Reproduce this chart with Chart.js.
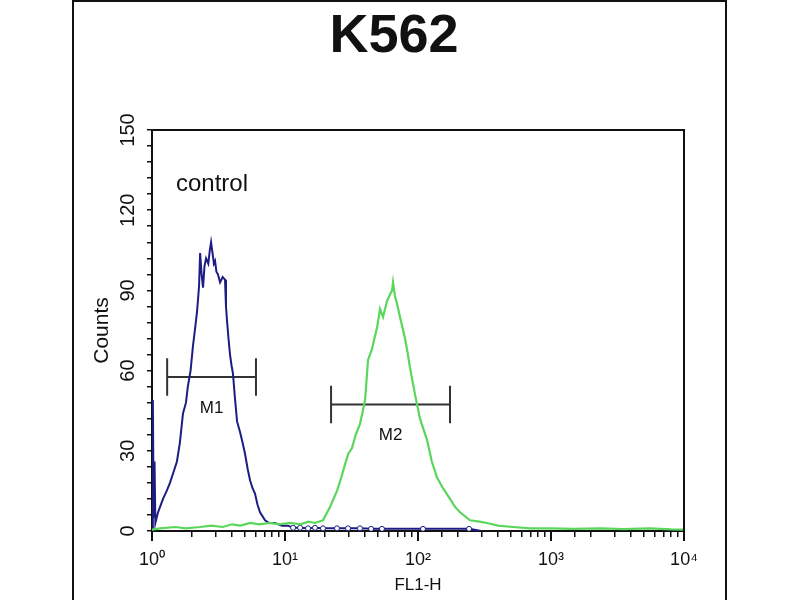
<!DOCTYPE html>
<html>
<head>
<meta charset="utf-8">
<title>K562</title>
<script src="https://cdn.jsdelivr.net/npm/chart.js@4.4.0/dist/chart.umd.min.js"></script>
<style>
  html, body { margin: 0; padding: 0; background: #fff; }
  #wrap { position: relative; width: 800px; height: 600px; overflow: hidden; }
  #wrap canvas { position: absolute; left: 0; top: 0; }
  #frame { position: absolute; left: 72px; top: 0; width: 651px; height: 640px;
           border: 2px solid #111; pointer-events: none; }
</style>
</head>
<body>
<div id="wrap">
  <canvas id="chart-histogram" width="800" height="600"></canvas>
  <div id="frame"></div>
</div>
<script>
const FONT = "'Liberation Sans Narrow', 'Liberation Sans', Arial, sans-serif";

const TITLE = 'K562';
const X_LABEL = 'FL1-H';
const Y_LABEL = 'Counts';
const SAMPLE_NOTE = 'control';
const Y_MAX = 150;
const Y_LABEL_STEP = 30;
const Y_MINOR_STEP = 6;
const X_MIN = 1;
const X_MAX = 10000;
const X_DECADES = [1, 10, 100, 1000, 10000];
const SUPERSCRIPTS = ['\u2070', '\u00b9', '\u00b2', '\u00b3', '\u2074'];

// control histogram (blue)
const controlX = [
  1.00, 1.015, 1.03, 1.045, 1.06, 1.11, 1.21, 1.29, 1.365, 1.45,
  1.54, 1.62, 1.71, 1.80, 1.86, 1.95, 2.03, 2.10, 2.18, 2.23,
  2.26, 2.30, 2.36, 2.42, 2.48, 2.55, 2.65, 2.72, 2.78, 2.85,
  2.92, 2.98, 3.05, 3.13, 3.25, 3.40, 3.54, 3.60, 3.66, 3.76,
  3.86, 3.96, 4.06, 4.20, 4.36, 4.59, 4.80, 5.00, 5.25, 5.46,
  5.70, 5.95, 6.20, 6.49, 7.08, 7.6, 8.4, 9.5, 10.5, 11.5,
  13.0, 14.9, 16.8, 19.3, 24.6, 29.8, 36.6, 44.4, 53.6, 109,
  242, 300,
];
const controlY = [
  0, 49, 5, 26, 3, 7, 12, 15, 18, 22,
  26, 33, 44, 48, 54, 60, 69, 75, 82, 88,
  92, 104, 96, 91, 99, 102, 100, 105, 108, 104,
  100, 101, 97, 96, 93, 95, 94, 84, 79, 72,
  66, 62, 59, 50, 41, 37, 33, 29, 23, 19,
  16, 14, 10, 7, 4, 3, 3, 2, 2, 1.2,
  1.2, 1, 1.2, 1, 1, 1, 1, 0.8, 0.8, 0.8,
  0.8, 0,
];

// stained sample histogram (green)
const sampleX = [
  1.00, 1.15, 1.5, 1.8, 2.3, 2.8, 3.4, 4.0, 4.6, 5.5,
  6.4, 7.7, 9.0, 11, 13, 15, 16.8, 19.3, 21.8, 24.6,
  26.5, 28.3, 30, 31.9, 34, 36.6, 38.5, 40, 42.1, 45.1,
  47, 49.2, 51.8, 54.6, 58.5, 61, 63.8, 64.9, 67, 69.5,
  73.3, 79.9, 84, 87.1, 95, 103.5, 117, 127, 139, 154,
  174, 190, 207, 246, 290, 330, 400, 518, 700, 980,
  1500, 2335, 3500, 5550, 8000, 10000,
];
const sampleY = [
  0.5, 1, 1.5, 1, 1.5, 2, 1.5, 2.5, 2, 3,
  2.5, 3, 2.5, 3, 2.5, 3.5, 3, 4, 9, 15,
  20, 25, 29, 31, 36, 40, 45, 49, 64, 68,
  72, 76, 83, 80, 86, 88, 90, 93, 88, 85,
  80, 72, 66, 61, 51, 42, 34, 26, 20, 16,
  12, 9, 7, 4, 3.5, 3, 2, 1.5, 1, 1,
  0.8, 1, 0.7, 1, 0.6, 0.5,
];

// marker gates
const gateNames = ['M1', 'M2'];
const gateStart = [1.30, 22.2];
const gateEnd = [6.05, 174];
const gateLevel = [57.6, 47.3];

function toPoints(xs, ys) {
  return xs.map((x, i) => ({ x, y: ys[i] }));
}

function gatePoints(i) {
  const a = gateStart[i];
  const b = gateEnd[i];
  const y = gateLevel[i];
  const cap = 7;
  return [
    { x: a, y: y - cap }, { x: a, y: y + cap }, { x: a, y: null },
    { x: a, y }, { x: b, y }, { x: b, y: null },
    { x: b, y: y - cap }, { x: b, y: y + cap },
  ];
}

// title, the "control" note, gate names, longer decade ticks and the closing plot frame
const captions = {
  id: 'captions',
  afterDraw(chart) {
    const { ctx, chartArea, scales } = chart;
    ctx.save();
    ctx.strokeStyle = '#111';
    ctx.lineWidth = 2;
    ctx.beginPath();
    ctx.moveTo(chartArea.left, chartArea.top);
    ctx.lineTo(chartArea.right, chartArea.top);
    ctx.lineTo(chartArea.right, chartArea.bottom);
    X_DECADES.forEach(v => {
      const px = scales.x.getPixelForValue(v);
      ctx.moveTo(px, chartArea.bottom);
      ctx.lineTo(px, chartArea.bottom + 10);
    });
    ctx.stroke();

    ctx.fillStyle = '#111';
    ctx.textBaseline = 'middle';
    ctx.textAlign = 'center';
    ctx.font = `bold 54px ${FONT}`;
    ctx.fillText(TITLE, 394, 37);

    ctx.textAlign = 'left';
    ctx.font = `24px ${FONT}`;
    ctx.fillText(SAMPLE_NOTE, chartArea.left + 24, chartArea.top + 54);

    ctx.textAlign = 'center';
    ctx.font = `17px ${FONT}`;
    gateNames.forEach((name, i) => {
      const mid = Math.sqrt(gateStart[i] * gateEnd[i]);
      ctx.fillText(name, scales.x.getPixelForValue(mid), scales.y.getPixelForValue(gateLevel[i]) + 31);
    });
    ctx.restore();
  },
};

const gateSets = gateNames.map((name, i) => ({
  label: name,
  data: gatePoints(i),
  borderColor: '#333',
  borderWidth: 2,
  pointRadius: 0,
  spanGaps: false,
}));

new Chart(document.getElementById('chart-histogram'), {
  type: 'line',
  data: {
    datasets: [
      {
        label: 'sample',
        data: toPoints(sampleX, sampleY),
        borderColor: '#5ad65a',
        borderWidth: 2.2,
        pointRadius: 0,
        tension: 0,
      },
      {
        label: 'control',
        data: toPoints(controlX, controlY),
        borderColor: '#1c1c84',
        borderWidth: 2,
        backgroundColor: '#fff',
        pointBorderWidth: 1,
        pointRadius: c => (c.raw && c.raw.x > 11 && c.raw.y > 0 ? 2.5 : 0),
        tension: 0,
      },
      ...gateSets,
    ],
  },
  options: {
    responsive: false,
    animation: false,
    layout: { padding: { left: 0, right: 116, top: 130, bottom: 0 } },
    plugins: {
      legend: { display: false },
      tooltip: { enabled: false },
      title: { display: false },
    },
    scales: {
      x: {
        type: 'logarithmic',
        min: X_MIN,
        max: X_MAX,
        border: { display: true, color: '#111', width: 2 },
        grid: { drawOnChartArea: false, tickLength: 6, color: '#111', lineWidth: 1.5 },
        ticks: {
          autoSkip: false,
          maxRotation: 0,
          padding: 12,
          color: '#111',
          font: { family: FONT, size: 18 },
          callback: v => {
            const e = Math.log10(v);
            return Math.abs(e - Math.round(e)) < 1e-9 ? '10' + SUPERSCRIPTS[Math.round(e)] : '';
          },
        },
        title: {
          display: true,
          text: X_LABEL,
          color: '#111',
          font: { family: FONT, size: 17 },
          padding: { top: 0, bottom: 4 },
        },
        afterFit: axis => { axis.height = 69; },
      },
      y: {
        min: 0,
        max: Y_MAX,
        border: { display: true, color: '#111', width: 2 },
        grid: { drawOnChartArea: false, tickLength: 5, color: '#111', lineWidth: 1.5 },
        ticks: {
          stepSize: Y_MINOR_STEP,
          autoSkip: false,
          minRotation: 90,
          maxRotation: 90,
          crossAlign: 'center',
          padding: 2,
          color: '#111',
          font: { family: FONT, size: 20 },
          callback: v => (v % Y_LABEL_STEP === 0 ? String(v) : ''),
        },
        title: {
          display: true,
          text: Y_LABEL,
          color: '#111',
          font: { family: FONT, size: 21 },
          padding: { top: 90, bottom: 0 },
        },
        afterFit: axis => { axis.width = 152; },
      },
    },
  },
  plugins: [captions],
});
</script>
</body>
</html>
